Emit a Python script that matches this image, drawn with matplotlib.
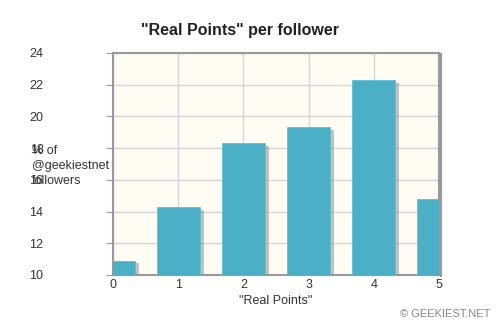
import matplotlib.pyplot as plt
import matplotlib.patheffects as pe

plt.rcParams['font.family'] = ['Liberation Sans', 'DejaVu Sans']

# "Real Points" value and percent of followers
points = [0, 1, 2, 3, 4, 5]
percent = [10.9, 14.3, 18.3, 19.3, 22.3, 14.8]

fig = plt.figure(figsize=(5, 3.25), dpi=100)
ax = fig.add_axes([0.226, 0.154, 0.652, 0.683])
ax.set_facecolor('#fffcf3')

shadow = [pe.SimplePatchShadow(offset=(3, -2), shadow_rgbFace='#888888', alpha=0.5), pe.Normal()]
bars = ax.bar(points, [p - 10 for p in percent], bottom=10, width=0.66,
              color='#4bb0c6', edgecolor='#5cc0d4', linewidth=0.6, zorder=3)
for b in bars:
    b.set_path_effects(shadow)

ax.set_xlim(0, 5)
ax.set_ylim(10, 24)
ax.set_xticks(points)
ax.set_yticks(range(10, 25, 2))
ax.grid(True, color='#d4d4d4', linewidth=0.9, zorder=0)
for s in ax.spines.values():
    s.set_color('#999999')
    s.set_linewidth(1.5)
ax.spines['right'].set_path_effects([pe.SimpleLineShadow(offset=(1.5, -1), alpha=0.4), pe.Normal()])
ax.tick_params(axis='y', length=5, color='#999999', pad=45, labelsize=9, labelcolor='#333333')
ax.tick_params(axis='x', length=0, pad=3, labelsize=9, labelcolor='#333333')

ax.set_xlabel('"Real Points"', fontsize=9, color='#333333', labelpad=3)
fig.text(0.064, 0.555, '% of\n@geekiestnet\nfollowers', fontsize=9, color='#333333',
         ha='left', va='top', linespacing=1.35)
fig.text(0.48, 0.905, '"Real Points" per follower', fontsize=11.5, fontweight='bold',
         color='#222222', ha='center', va='center')
fig.text(0.98, 0.035, '\u00a9 GEEKIEST.NET', fontsize=8, color='#888888', ha='right', va='center')

fig.savefig('out.png', dpi=100)
